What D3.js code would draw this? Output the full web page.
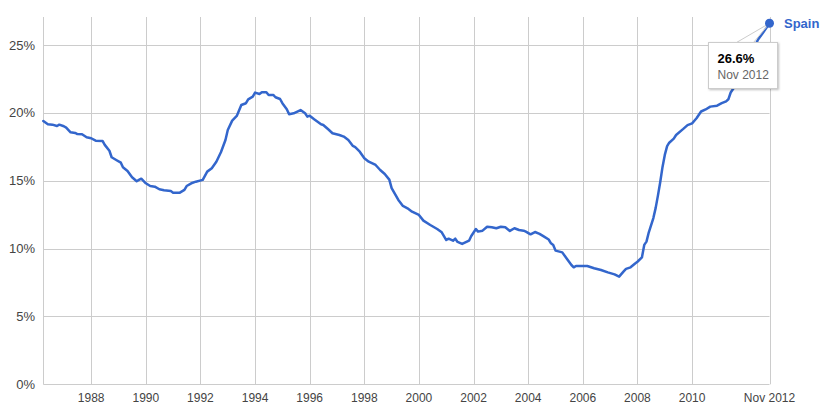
<!DOCTYPE html>
<html>
<head>
<meta charset="utf-8">
<script src="https://cdn.jsdelivr.net/npm/d3@7"></script>
<style>
  html, body { margin: 0; padding: 0; background: #fff; }
  svg { display: block; font-family: Arial, "Liberation Sans", sans-serif; }
</style>
</head>
<body>
<svg id="chart" width="825" height="409"></svg>
<script>
// ---- Data ----
const seriesName = "Spain";
const months = [
  "1986-04","1986-06","1986-08","1986-10","1986-11","1987-01","1987-02","1987-04","1987-06","1987-07",
  "1987-09","1987-11","1988-01","1988-03","1988-06","1988-07","1988-09","1988-10","1988-12","1989-02",
  "1989-03","1989-05","1989-07","1989-09","1989-10","1989-11","1990-01","1990-03","1990-05","1990-07",
  "1990-09","1990-12","1991-01","1991-04","1991-06","1991-07","1991-09","1991-11","1992-02","1992-04",
  "1992-06","1992-08","1992-10","1992-12","1993-01","1993-03","1993-05","1993-07","1993-09","1993-10",
  "1993-12","1994-01","1994-03","1994-04","1994-06","1994-07","1994-09","1994-10","1994-12","1995-01",
  "1995-03","1995-04","1995-06","1995-09","1995-11","1995-12","1996-01","1996-03","1996-06","1996-07",
  "1996-09","1996-11","1997-02","1997-04","1997-06","1997-08","1997-09","1997-11","1998-01","1998-03",
  "1998-06","1998-08","1998-10","1998-12","1999-01","1999-04","1999-06","1999-08","1999-10","2000-01",
  "2000-03","2000-06","2000-09","2000-11","2001-01","2001-02","2001-04","2001-05","2001-06","2001-08",
  "2001-11","2001-12","2002-02","2002-03","2002-05","2002-07","2002-09","2002-11","2003-01","2003-03",
  "2003-05","2003-07","2003-09","2003-11","2003-12","2004-02","2004-04","2004-06","2004-08","2004-10",
  "2004-11","2004-12","2005-01","2005-04","2005-06","2005-08","2005-09","2005-10","2006-03","2006-06",
  "2006-09","2006-12","2007-03","2007-05","2007-07","2007-08","2007-10","2007-12","2008-01","2008-03",
  "2008-04","2008-05","2008-06","2008-08","2008-09","2008-10","2008-11","2008-12","2009-01","2009-02",
  "2009-03","2009-05","2009-06","2009-09","2009-11","2010-01","2010-03","2010-05","2010-07","2010-09",
  "2010-12","2011-02","2011-04","2011-05","2011-06","2011-08","2011-10","2011-12","2012-02","2012-04",
  "2012-06","2012-08","2012-11"
];
const rates = [
  19.40,19.16,19.13,19.03,19.13,19.01,18.91,18.57,18.52,18.44,
  18.42,18.20,18.13,17.95,17.93,17.64,17.21,16.73,16.53,16.33,
  15.99,15.72,15.25,14.96,15.06,15.15,14.81,14.61,14.56,14.37,
  14.30,14.24,14.12,14.12,14.32,14.61,14.81,14.93,15.06,15.67,
  15.92,16.40,17.10,18.00,18.74,19.43,19.77,20.58,20.71,21.00,
  21.19,21.49,21.39,21.52,21.52,21.32,21.32,21.15,21.02,20.71,
  20.27,19.90,19.97,20.21,19.97,19.72,19.79,19.53,19.16,19.11,
  18.81,18.50,18.37,18.25,18.00,17.56,17.47,17.14,16.65,16.40,
  16.16,15.79,15.50,15.08,14.45,13.58,13.14,12.97,12.72,12.48,
  12.06,11.74,11.44,11.20,10.63,10.73,10.58,10.73,10.49,10.34,
  10.58,10.93,11.44,11.25,11.32,11.61,11.57,11.50,11.61,11.57,
  11.30,11.50,11.37,11.32,11.25,11.05,11.22,11.08,10.88,10.67,
  10.39,10.27,9.85,9.72,9.25,8.79,8.62,8.72,8.72,8.55,
  8.42,8.25,8.10,7.93,8.32,8.50,8.62,8.90,9.03,9.35,
  10.27,10.51,11.20,12.25,13.00,13.90,14.90,16.00,16.90,17.55,
  17.80,18.10,18.37,18.80,19.10,19.23,19.60,20.10,20.25,20.46,
  20.53,20.71,20.85,21.00,21.50,22.00,22.60,23.30,24.00,24.70,
  25.40,25.87,26.60
];
const yTicks = [0, 5, 10, 15, 20, 25];
const xTickYears = [1988, 1990, 1992, 1994, 1996, 1998, 2000, 2002, 2004, 2006, 2008, 2010];
const endLabel = "Nov 2012";
const tooltipValue = "26.6%";
const tooltipDate = "Nov 2012";

// ---- Layout ----
const parse = d3.timeParse("%Y-%m");
const data = months.map((m, i) => ({ date: parse(m), value: rates[i] }));

const plotL = 43.3, plotR = 769.5, plotT = 17, plotB = 384.3;
const blue = "#3366cc";
const gridColor = "#cccccc";

const x = d3.scaleTime()
  .domain([data[0].date, data[data.length - 1].date])
  .range([plotL, plotR]);
const y = d3.scaleLinear()
  .domain([0, 25])
  .range([plotB, 45]);

const svg = d3.select("#chart");

// horizontal gridlines
svg.append("g").selectAll("line").data(yTicks).join("line")
  .attr("x1", plotL).attr("x2", plotR)
  .attr("y1", d => Math.round(y(d)) + 0.5).attr("y2", d => Math.round(y(d)) + 0.5)
  .attr("stroke", gridColor).attr("stroke-width", 1);

// vertical gridlines
const xTickDates = xTickYears.map(yr => new Date(yr, 0, 1));
const allXDates = [data[0].date, ...xTickDates, data[data.length - 1].date];
svg.append("g").selectAll("line").data(allXDates).join("line")
  .attr("x1", d => Math.round(x(d)) + 0.5).attr("x2", d => Math.round(x(d)) + 0.5)
  .attr("y1", plotT).attr("y2", plotB)
  .attr("stroke", gridColor).attr("stroke-width", 1);

// y labels
svg.append("g").selectAll("text").data(yTicks).join("text")
  .attr("x", 35).attr("y", d => y(d))
  .attr("dy", "0.35em")
  .attr("text-anchor", "end")
  .attr("font-size", 13).attr("fill", "#444")
  .text(d => d + "%");

// x labels
const xLabelData = [...xTickDates.map(d => ({ d, t: d3.timeFormat("%Y")(d) })),
                    { d: data[data.length - 1].date, t: endLabel }];
svg.append("g").selectAll("text").data(xLabelData).join("text")
  .attr("x", o => x(o.d)).attr("y", 402)
  .attr("text-anchor", "middle")
  .attr("font-size", 12).attr("fill", "#444")
  .text(o => o.t);

// line
const line = d3.line().x(d => x(d.date)).y(d => y(d.value));
svg.append("path").datum(data)
  .attr("d", line)
  .attr("fill", "none")
  .attr("stroke", blue)
  .attr("stroke-width", 2.5)
  .attr("stroke-linejoin", "round")
  .attr("stroke-linecap", "round");

// end point
const last = data[data.length - 1];
const px = x(last.date), py = y(last.value);

// tooltip
const tb = { x: 708.5, y: 42.5, w: 69, h: 46 };
const defs = svg.append("defs");
const f = defs.append("filter").attr("id", "shadow").attr("x", "-20%").attr("y", "-20%").attr("width", "150%").attr("height", "150%");
f.append("feDropShadow").attr("dx", 1).attr("dy", 1).attr("stdDeviation", 1.2).attr("flood-color", "#000").attr("flood-opacity", 0.25);

svg.append("path")
  .attr("d", `M${tb.x + 28},${tb.y} L${px},${py} L${tb.x + 45},${tb.y}`)
  .attr("fill", "rgba(255,255,255,0.55)")
  .attr("stroke", "#cccccc").attr("stroke-width", 1);

svg.append("rect")
  .attr("x", tb.x).attr("y", tb.y).attr("width", tb.w).attr("height", tb.h)
  .attr("fill", "#fff").attr("stroke", "#cccccc").attr("stroke-width", 1)
  .attr("filter", "url(#shadow)");
svg.append("text")
  .attr("x", 717.5).attr("y", 63)
  .attr("font-size", 13).attr("font-weight", "bold").attr("fill", "#000")
  .text(tooltipValue);
svg.append("text")
  .attr("x", 717.5).attr("y", 79)
  .attr("font-size", 12).attr("fill", "#666")
  .text(tooltipDate);

svg.append("circle")
  .attr("cx", px).attr("cy", py).attr("r", 4.5)
  .attr("fill", blue);

svg.append("text")
  .attr("x", 784).attr("y", py + 4.5)
  .attr("font-size", 13).attr("font-weight", "bold").attr("fill", blue)
  .text(seriesName);
</script>
</body>
</html>
